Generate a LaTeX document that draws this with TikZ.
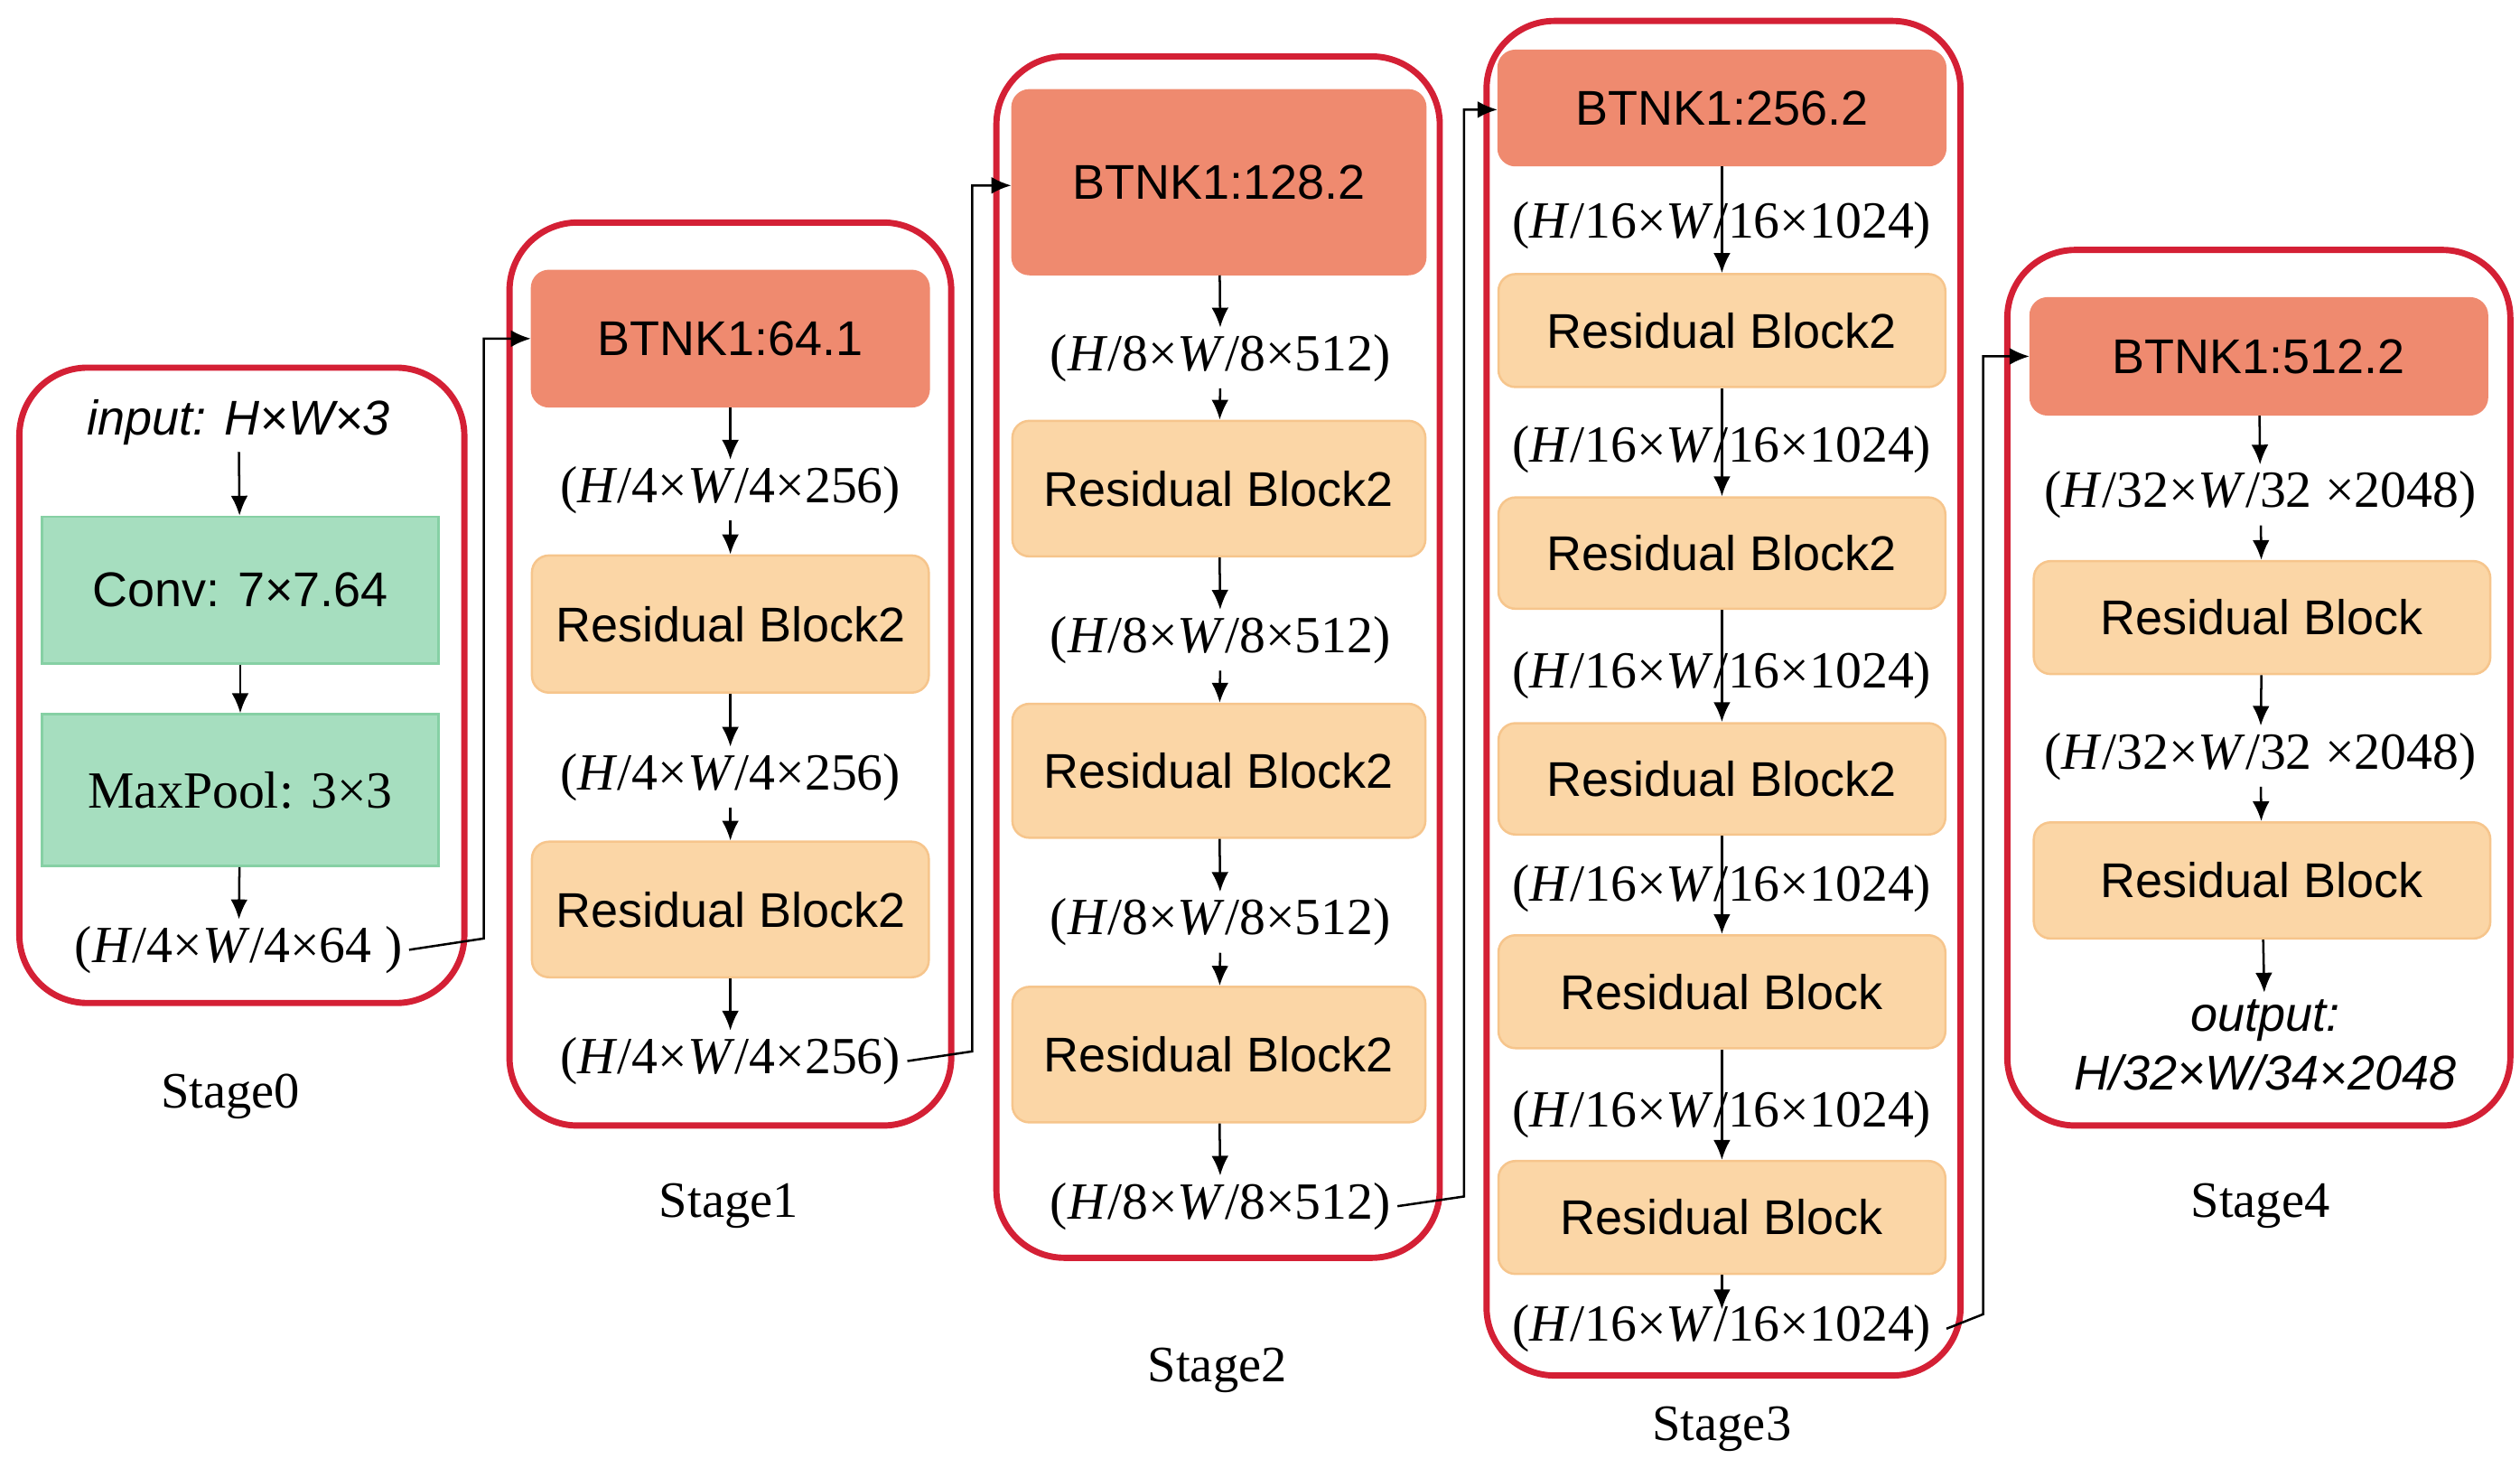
\documentclass[tikz,border=0pt]{standalone}
\usepackage{fontspec}
\setmainfont{Liberation Serif}
\newfontfamily\sansf{Liberation Sans}
\usetikzlibrary{arrows.meta}
\definecolor{stagered}{HTML}{D42035}
\definecolor{resfill}{HTML}{FBD6A6}
\definecolor{resedge}{HTML}{F6C58C}
\definecolor{btnkfill}{HTML}{EF8A6F}
\definecolor{convfill}{HTML}{A6DEBF}
\definecolor{convedge}{HTML}{86D0A4}
\begin{document}
\begin{tikzpicture}[x=0.01cm,y=-0.01cm,>={Latex[length=3.5pt,width=3pt]},
      stage/.style={draw=stagered, line width=1.1pt, rounded corners=12pt},
      res/.style={draw=resedge, fill=resfill, rounded corners=3pt, font=\sansf\fontsize{8.6}{10}\selectfont},
      btnk/.style={draw=btnkfill, fill=btnkfill, rounded corners=3pt, font=\sansf\fontsize{8.6}{10}\selectfont},
      conv/.style={draw=convedge, fill=convfill, font=\sansf\fontsize{8.6}{10}\selectfont},
      dim/.style={inner sep=1pt, font=\fontsize{9.2}{11}\selectfont},
      lbl/.style={font=\fontsize{9}{11}\selectfont},
      arr/.style={->, line width=0.4pt},
      link/.style={->, line width=0.4pt}]
  \useasboundingbox (0,0) rectangle (1563,910);

  % stage frames
  \draw[stage] (12,228) rectangle (288,622);
  \draw[stage] (316,138) rectangle (590,698);
  \draw[stage] (618,35) rectangle (893,780);
  \draw[stage] (922,13) rectangle (1216,853);
  \draw[stage] (1245,155) rectangle (1557,698);

  % Stage0
  \node[dim, font=\sansf\itshape\fontsize{8.6}{10}\selectfont] (in0) at (148,262) {input: H×W×3};
  \node[conv, minimum width=2.46cm, minimum height=0.91cm] (conv0) at (149,366) {Conv: 7×7.64};
  \node[conv, minimum width=2.46cm, minimum height=0.94cm, font=\fontsize{9.2}{11}\selectfont] (pool0) at (149,490) {MaxPool: 3×3};
  \node[dim] (d0) at (148,589) {(\textit{H}/4×\textit{W}/4×64 )};
  \node[lbl] (s0) at (143,680) {Stage0};

  % Stage1
  \node[btnk, minimum width=2.46cm, minimum height=0.84cm] (b1) at (453,210) {BTNK1:64.1};
  \node[dim] (d1a) at (453,304) {(\textit{H}/4×\textit{W}/4×256)};
  \node[res, minimum width=2.46cm, minimum height=0.85cm] (r1a) at (453,387) {Residual Block2};
  \node[dim] (d1b) at (453,482) {(\textit{H}/4×\textit{W}/4×256)};
  \node[res, minimum width=2.46cm, minimum height=0.84cm] (r1b) at (453,564) {Residual Block2};
  \node[dim] (d1c) at (453,658) {(\textit{H}/4×\textit{W}/4×256)};
  \node[lbl] (s1) at (452,748) {Stage1};

  % Stage2
  \node[btnk, minimum width=2.56cm, minimum height=1.14cm] (b2) at (756,113) {BTNK1:128.2};
  \node[dim] (d2a) at (757,222) {(\textit{H}/8×\textit{W}/8×512)};
  \node[res, minimum width=2.56cm, minimum height=0.84cm] (r2a) at (756,303) {Residual Block2};
  \node[dim] (d2b) at (757,397) {(\textit{H}/8×\textit{W}/8×512)};
  \node[res, minimum width=2.56cm, minimum height=0.83cm] (r2b) at (756,478) {Residual Block2};
  \node[dim] (d2c) at (757,572) {(\textit{H}/8×\textit{W}/8×512)};
  \node[res, minimum width=2.56cm, minimum height=0.84cm] (r2c) at (756,654) {Residual Block2};
  \node[dim] (d2d) at (757,748) {(\textit{H}/8×\textit{W}/8×512)};
  \node[lbl] (s2) at (755,850) {Stage2};

  % Stage3
  \node[btnk, minimum width=2.77cm, minimum height=0.71cm] (b3) at (1068,67) {BTNK1:256.2};
  \node[dim] (d3a) at (1068,140) {(\textit{H}/16×\textit{W}/16×1024)};
  \node[res, minimum width=2.77cm, minimum height=0.70cm] (r3a) at (1068,205) {Residual Block2};
  \node[dim] (d3b) at (1068,279) {(\textit{H}/16×\textit{W}/16×1024)};
  \node[res, minimum width=2.77cm, minimum height=0.69cm] (r3b) at (1068,343) {Residual Block2};
  \node[dim] (d3c) at (1068,419) {(\textit{H}/16×\textit{W}/16×1024)};
  \node[res, minimum width=2.77cm, minimum height=0.69cm] (r3c) at (1068,483) {Residual Block2};
  \node[dim] (d3d) at (1068,551) {(\textit{H}/16×\textit{W}/16×1024)};
  \node[res, minimum width=2.77cm, minimum height=0.70cm] (r3d) at (1068,615) {Residual Block};
  \node[dim] (d3e) at (1068,691) {(\textit{H}/16×\textit{W}/16×1024)};
  \node[res, minimum width=2.77cm, minimum height=0.70cm] (r3e) at (1068,755) {Residual Block};
  \node[dim] (d3f) at (1068,824) {(\textit{H}/16×\textit{W}/16×1024)};
  \node[lbl] (s3) at (1068,886) {Stage3};

  % Stage4
  \node[btnk, minimum width=2.83cm, minimum height=0.72cm] (b4) at (1401,221) {BTNK1:512.2};
  \node[dim] (d4a) at (1402,307) {(\textit{H}/32×\textit{W}/32 ×2048)};
  \node[res, minimum width=2.83cm, minimum height=0.70cm] (r4a) at (1403,383) {Residual Block};
  \node[dim] (d4b) at (1402,469) {(\textit{H}/32×\textit{W}/32 ×2048)};
  \node[res, minimum width=2.83cm, minimum height=0.72cm] (r4b) at (1403,546) {Residual Block};
  \node[dim, align=center, font=\sansf\itshape\fontsize{8.6}{10.4}\selectfont] (out4) at (1405,648) {output:\\H/32×W/34×2048};
  \node[lbl] (s4) at (1402,748) {Stage4};

  % arrows inside stages
  \path[arr]
    (in0) edge (conv0) (conv0) edge (pool0) (pool0) edge (d0)
    (b1) edge (d1a) (d1a) edge (r1a) (r1a) edge (d1b) (d1b) edge (r1b) (r1b) edge (d1c)
    (b2) edge (d2a) (d2a) edge (r2a) (r2a) edge (d2b) (d2b) edge (r2b) (r2b) edge (d2c)
    (d2c) edge (r2c) (r2c) edge (d2d)
    (b3) edge (r3a) (r3a) edge (r3b) (r3b) edge (r3c) (r3c) edge (r3d) (r3d) edge (r3e)
    (r3e.south) edge (1068,812)
    (b4) edge (d4a) (d4a) edge (r4a) (r4a) edge (d4b) (d4b) edge (r4b) (r4b) edge (out4);

  % links between stages
  \draw[link] (d0.east) -- (300,582) |- (b1.west);
  \draw[link] (d1c.east) -- (603,652) |- (b2.west |- 0,115);
  \draw[link] (d2d.east) -- (908,742) |- (b3.west |- 0,68);
  \draw[link] (r3e.east |- d3f) -- (1230,815) |- (b4.west);
\end{tikzpicture}
\end{document}
